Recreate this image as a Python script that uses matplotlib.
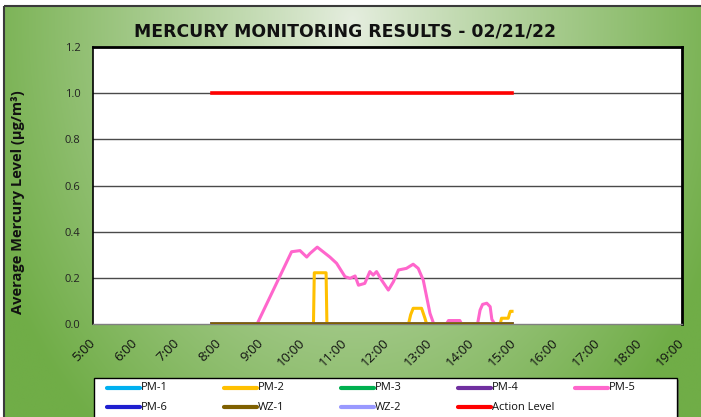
import numpy as np
import matplotlib
matplotlib.use("Agg")
import matplotlib.pyplot as plt
from matplotlib.patches import Rectangle
from matplotlib.lines import Line2D

# ---------------- data ----------------
hour_ticks = list(range(5, 20))
hour_labels = [f"{h}:00" for h in hour_ticks]

# zero-valued monitors over the monitoring period (decimal hours)
flat_t = [7.83, 14.96]
pm1_v = [0.0, 0.0]
pm3_v = [0.0, 0.0]
pm4_v = [0.0, 0.0]
pm6_v = [0.0, 0.0]
wz1_v = [0.0, 0.0]
wz2_v = [0.0, 0.0]
action_v = [1.0, 1.0]

pm2_t = [7.83, 10.24, 10.26, 10.54, 10.56, 12.50, 12.55, 12.61, 12.81, 12.89, 12.93,
         14.68, 14.71, 14.87, 14.90, 14.92, 14.96]
pm2_v = [0.0, 0.0, 0.222, 0.222, 0.0, 0.0, 0.04, 0.068, 0.068, 0.025, 0.0,
         0.0, 0.025, 0.025, 0.045, 0.055, 0.055]

pm5_t = [7.83, 8.90, 9.72, 9.92, 10.08, 10.16, 10.33, 10.47, 10.63, 10.79, 10.99,
         11.11, 11.23, 11.31, 11.46, 11.58, 11.66, 11.74, 11.86, 12.02, 12.14,
         12.26, 12.45, 12.61, 12.73, 12.85, 13.01, 13.10, 13.40, 13.45, 13.72,
         13.76, 14.14, 14.20, 14.26, 14.36, 14.44, 14.48, 14.55, 14.96]
pm5_v = [0.0, 0.0, 0.313, 0.318, 0.29, 0.306, 0.333, 0.313, 0.29, 0.263, 0.205,
         0.198, 0.208, 0.168, 0.176, 0.227, 0.212, 0.227, 0.19, 0.147, 0.183,
         0.234, 0.241, 0.259, 0.241, 0.19, 0.046, 0.0, 0.0, 0.015, 0.015,
         0.0, 0.0, 0.06, 0.085, 0.09, 0.075, 0.02, 0.0, 0.0]

series = [
    ("PM-1", flat_t, pm1_v, "#00B0F0"),
    ("PM-2", pm2_t, pm2_v, "#FFC000"),
    ("PM-3", flat_t, pm3_v, "#00B050"),
    ("PM-4", flat_t, pm4_v, "#7030A0"),
    ("PM-5", pm5_t, pm5_v, "#FF66CC"),
    ("PM-6", flat_t, pm6_v, "#1F1FD0"),
    ("WZ-1", flat_t, wz1_v, "#7F6000"),
    ("WZ-2", flat_t, wz2_v, "#9999FF"),
    ("Action Level", flat_t, action_v, "#FF0000"),
]

W, H = 701, 417
fig = plt.figure(figsize=(W / 100, H / 100), dpi=100)
fig.patch.set_facecolor("white")

# ---------------- background gradient ----------------
bg = fig.add_axes([0, 0, 1, 1], zorder=-10)
bg.set_xlim(0, W)
bg.set_ylim(H, 0)
bg.axis("off")
yy, xx = np.mgrid[0:H, 0:W]
d = np.sqrt(((xx - 350) / 400.0) ** 2 + ((yy - 15) / 540.0) ** 2)
t = np.clip(d, 0, 1) ** 0.9
light = np.array([230, 238, 224]) / 255.0
green = np.array([112, 173, 71]) / 255.0
img = light[None, None, :] * (1 - t[..., None]) + green[None, None, :] * t[..., None]
bg.imshow(img, extent=(4, W, H, 6), aspect="auto", zorder=0)
bg.add_patch(Rectangle((4, 6), W, H, fill=False, edgecolor="#3a3a3a", lw=1.5, zorder=1))

# ---------------- main axes ----------------
x0, x1, ytop, ybot = 93, 682, 47, 324
ax = fig.add_axes([x0 / W, 1 - ybot / H, (x1 - x0) / W, (ybot - ytop) / H])
ax.set_facecolor("white")
ax.set_xlim(5, 19)
ax.set_ylim(0, 1.2)

for yv in [0.2, 0.4, 0.6, 0.8, 1.0]:
    ax.axhline(yv, color="#4a4a4a", lw=1.0, zorder=1)

for i, (name, tt, vv, col) in enumerate(series):
    lw = 2.2 if name in ("PM-5", "PM-2") else 2.6
    z = 3 + i * 0.01
    if name == "WZ-1":
        z = 4
    if name == "Action Level":
        z = 4.1
    ax.plot(tt, vv, color=col, lw=lw, label=name, zorder=z, solid_joinstyle="round")

ax.set_yticks([0, 0.2, 0.4, 0.6, 0.8, 1.0, 1.2])
ax.set_yticklabels([f"{v:.1f}" for v in [0, 0.2, 0.4, 0.6, 0.8, 1.0, 1.2]],
                   fontsize=8, color="#222222", family="Open Sans")
ax.tick_params(axis="y", length=0, pad=9)
ax.set_xticks(hour_ticks)
ax.set_xticklabels(hour_labels, rotation=45, ha="right", va="center",
                   rotation_mode="anchor", fontsize=9.5, family="Open Sans",
                   color="#111111")
ax.tick_params(axis="x", length=0, pad=12)

for s in ["top", "right"]:
    ax.spines[s].set_color("black")
    ax.spines[s].set_linewidth(2.0)
ax.spines["left"].set_color("black")
ax.spines["left"].set_linewidth(1.2)
ax.spines["bottom"].set_color("#808080")
ax.spines["bottom"].set_linewidth(1.0)

fig.text(18 / W, 1 - 202 / H, "Average Mercury Level (µg/m³)", rotation=90,
         ha="center", va="center", fontsize=10.5, fontweight="bold",
         family="Open Sans", color="#111111")

fig.text(345.5 / W, 1 - 31 / H, "MERCURY MONITORING RESULTS - 02/21/22",
         ha="center", va="center", fontsize=12.4, fontweight="bold",
         family="DejaVu Sans", color="#111111")

# ---------------- legend (Excel-style, equal column pitch) ----------------
bg.add_patch(Rectangle((94, 378), 677 - 94, 60, facecolor="white",
                       edgecolor="black", lw=1.0, zorder=5))
# soft shadow on the right edge
bg.add_patch(Rectangle((677, 380), 2, 60, facecolor="#555555", edgecolor="none",
                       alpha=0.6, zorder=4))
for i, (name, tt, vv, col) in enumerate(series):
    row, c = divmod(i, 5)
    hx = 107 + 117 * c
    hy = 388 + 19 * row
    bg.add_line(Line2D([hx, hx + 33], [hy, hy], color=col, lw=3,
                       solid_capstyle="round", zorder=6))
    bg.text(hx + 34, hy, name, ha="left", va="center", fontsize=8,
            family="Open Sans", color="#111111", zorder=6)

fig.savefig("out.png", dpi=100, facecolor=fig.get_facecolor())
